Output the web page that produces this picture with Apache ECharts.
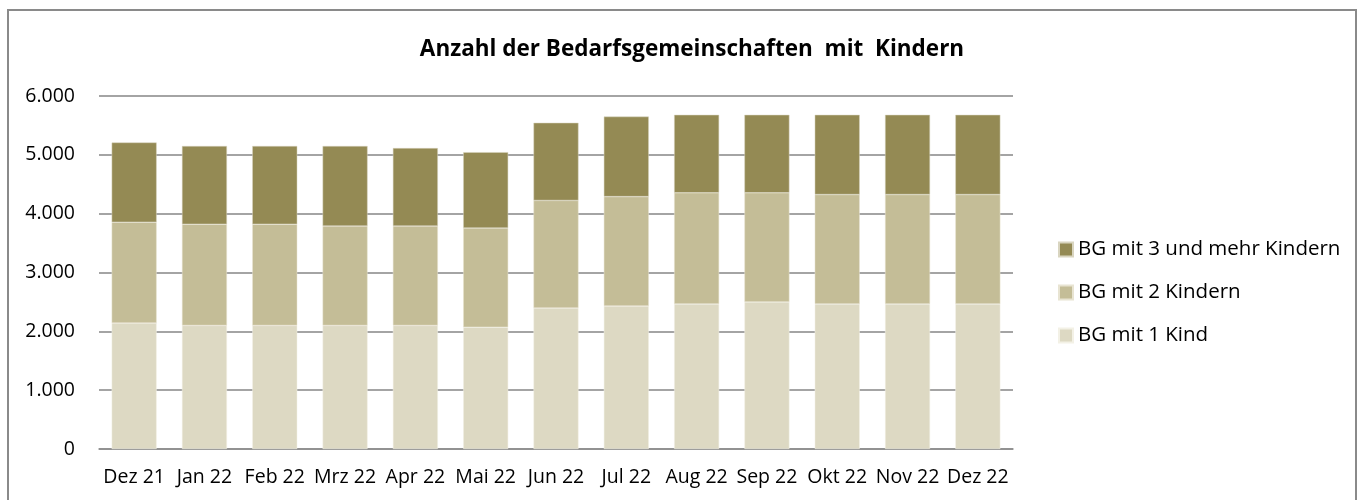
<!DOCTYPE html>
<html>
<head>
<meta charset="utf-8">
<script src="https://cdn.jsdelivr.net/npm/echarts@6/dist/echarts.min.js"></script>
<style>
  html, body { margin: 0; padding: 0; background: #fff; }
  #frame { position: absolute; left: 7px; top: 9px; width: 1350px; height: 500px; border: 2px solid #8a8a8a; box-sizing: border-box; }
  #chart { position: absolute; left: 0; top: 0; width: 1362px; height: 500px; }
</style>
</head>
<body>
<div id="frame"></div>
<div id="chart"></div>
<script>
var months = ['Dez 21', 'Jan 22', 'Feb 22', 'Mrz 22', 'Apr 22', 'Mai 22', 'Jun 22',
              'Jul 22', 'Aug 22', 'Sep 22', 'Okt 22', 'Nov 22', 'Dez 22'];
var bgEinKind = [2140, 2100, 2100, 2100, 2100, 2070, 2395, 2430, 2465, 2500, 2465, 2465, 2465];
var bgZweiKinder = [1715, 1720, 1720, 1690, 1690, 1685, 1830, 1860, 1890, 1855, 1860, 1860, 1860];
var bgDreiUndMehr = [1355, 1330, 1330, 1360, 1325, 1290, 1320, 1360, 1325, 1325, 1355, 1355, 1355];
var yTicks = [0, 1000, 2000, 3000, 4000, 5000, 6000];

var font = '"Open Sans", "Noto Sans", sans-serif';
var myChart = echarts.init(document.getElementById('chart'));

// Tausenderpunkt wie im Original
function fmt(v) {
    return String(v).replace(/\B(?=(\d{3})+(?!\d))/g, '.');
}

var option = {
    animation: false,
    title: {
        text: 'Anzahl der Bedarfsgemeinschaften  mit  Kindern',
        left: 687,
        top: 33,
        textAlign: 'center',
        textStyle: { fontFamily: font, fontSize: 22.5, fontWeight: 'bold', color: '#000' }
    },
    legend: {
        orient: 'vertical',
        left: 1053,
        top: 234,
        itemWidth: 14,
        itemHeight: 14,
        itemGap: 22,
        icon: 'rect',
        data: ['BG mit 3 und mehr Kindern', 'BG mit 2 Kindern', 'BG mit 1 Kind'],
        textStyle: { fontFamily: font, fontSize: 20.5, color: '#000' }
    },
    grid: { left: 99, right: 349, top: 96, bottom: 51 },
    xAxis: {
        type: 'category',
        data: months,
        axisLine: { lineStyle: { color: '#8c8c8c', width: 1.5 } },
        axisTick: { show: false },
        axisLabel: { fontFamily: font, fontSize: 19.5, color: '#000', margin: 18, interval: 0 }
    },
    yAxis: {
        type: 'value',
        min: yTicks[0],
        max: yTicks[yTicks.length - 1],
        interval: 1000,
        axisLine: { show: false },
        axisTick: { show: false },
        splitLine: { lineStyle: { color: '#868686', width: 1.5 } },
        axisLabel: { fontFamily: font, fontSize: 19.5, color: '#000', margin: 24, formatter: fmt }
    },
    series: [
        {
            name: 'BG mit 1 Kind', type: 'bar', stack: 'bg', barCategoryGap: '36%',
            itemStyle: { color: '#DDD9C3', borderColor: '#f3f1e6', borderWidth: 0.5 },
            data: bgEinKind
        },
        {
            name: 'BG mit 2 Kindern', type: 'bar', stack: 'bg',
            itemStyle: { color: '#C4BD97', borderColor: '#e8e4d2', borderWidth: 0.5 },
            data: bgZweiKinder
        },
        {
            name: 'BG mit 3 und mehr Kindern', type: 'bar', stack: 'bg',
            itemStyle: { color: '#948A54', borderColor: '#d9d5c0', borderWidth: 0.5 },
            data: bgDreiUndMehr
        }
    ]
};
myChart.setOption(option);
</script>
</body>
</html>
